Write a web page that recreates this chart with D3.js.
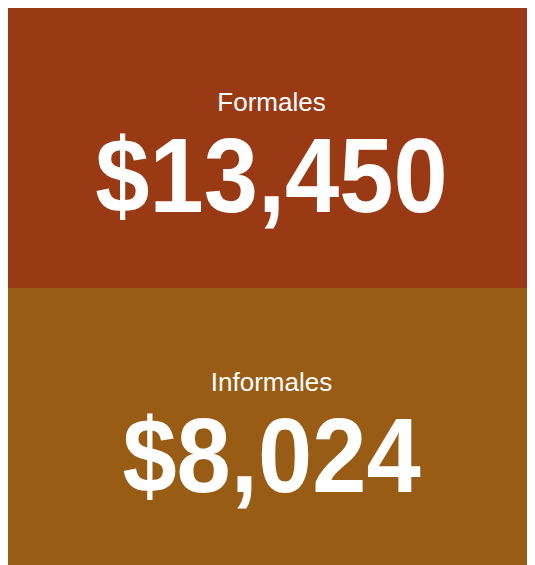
<!DOCTYPE html>
<html>
<head>
<meta charset="utf-8">
<script src="https://cdn.jsdelivr.net/npm/d3@7"></script>
<style>
  html, body { overflow: hidden; }
  body { margin: 8px; background: #fff; }
  svg { display: block; overflow: visible; }
</style>
</head>
<body>
<script>
const categories = ['Formales', 'Informales']
const values = [13450, 8024]
const colors = ['#993a15', '#995c15']

const w = 527
const h = 560
const svg = d3.select('body').append('svg').attr('width', w).attr('height', h)

const data = categories.map((c, i) => ({ cat: c, value: values[i] }))

const yScale = d3.scaleBand().domain(categories).range([0, h])
const colorScale = d3.scaleOrdinal().domain(categories).range(colors)
const fmt = d3.format('$,')

const g = svg.selectAll('g.block').data(data).enter().append('g')
  .attr('class', 'block')
  .attr('transform', (d) => 'translate(0,' + yScale(d.cat) + ')')

g.append('rect')
  .attr('x', 0)
  .attr('y', 0)
  .attr('width', w)
  .attr('height', yScale.bandwidth())
  .attr('fill', (d) => colorScale(d.cat))

g.append('text')
  .text((d) => d.cat)
  .attr('x', w / 2)
  .attr('y', 103)
  .attr('text-anchor', 'middle')
  .attr('fill', '#fff')
  .style('font-family', 'Liberation Sans, Arial, sans-serif')
  .style('font-size', '26px')

// big number, slightly narrowed to match the square display face
g.append('text')
  .text((d) => fmt(d.value))
  .attr('text-anchor', 'middle')
  .attr('transform', 'translate(' + (w / 2) + ',204) scale(0.92,1)')
  .attr('fill', '#fff')
  .style('font-family', 'Liberation Sans, Arial, sans-serif')
  .style('font-weight', 'bold')
  .style('font-size', '106px')
</script>
</body>
</html>
